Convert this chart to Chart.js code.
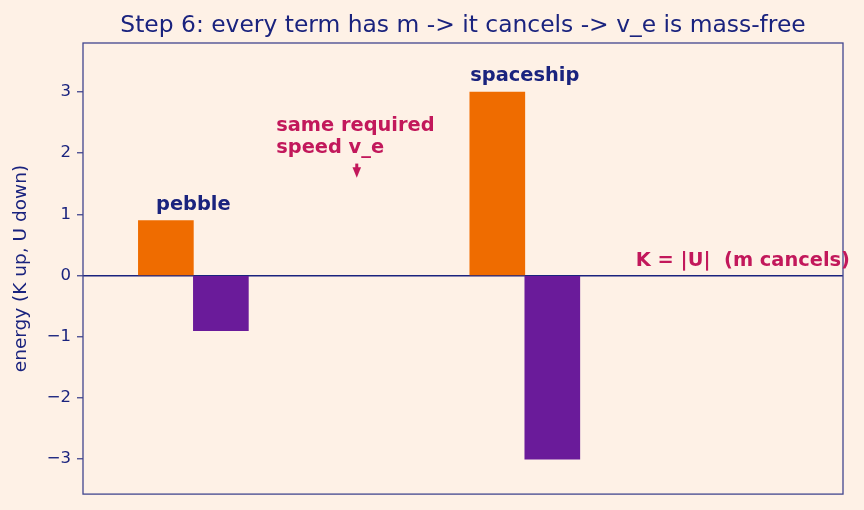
<!DOCTYPE html>
<html>
<head>
<meta charset="utf-8">
<script src="https://cdn.jsdelivr.net/npm/chart.js@4"></script>
<style>
  html, body { margin: 0; padding: 0; background: #fef1e6; }
  #wrap { width: 864px; height: 510px; }
</style>
</head>
<body>
<div id="wrap"><canvas id="energyChart"></canvas></div>
<script>
// values
const objects = ['pebble', 'spaceship'];
const positions = [0, 1];
const kinetic = [0.9, 3.0];
const potential = [-0.9, -3.0];
const yTicks = [-3, -2, -1, 0, 1, 2, 3];

const chartTitle = 'Step 6: every term has m -> it cancels -> v_e is mass-free';
const arrowNote = ['same required', 'speed v_e'];
const cancelNote = 'K = |U|  (m cancels)';

const navy = '#1a237e';
const frame = '#41468f';
const crimson = '#c2185b';

Chart.defaults.font.family = "'DejaVu Sans', sans-serif";
Chart.defaults.color = navy;

const background = {
  id: 'background',
  beforeDraw: (chart) => {
    const {ctx} = chart;
    ctx.save();
    ctx.fillStyle = '#fef1e6';
    ctx.fillRect(0, 0, chart.width, chart.height);
    ctx.restore();
  }
};

const notes = {
  id: 'notes',
  afterDraw: (chart) => {
    const {ctx, chartArea} = chart;
    const x = chart.scales.x;
    const y = chart.scales.y;
    ctx.save();

    // frame around the plot
    ctx.strokeStyle = frame;
    ctx.lineWidth = 1.3;
    ctx.strokeRect(chartArea.left, chartArea.top, chartArea.right - chartArea.left, chartArea.bottom - chartArea.top);

    // title, centred over the plot area
    ctx.fillStyle = navy;
    ctx.font = '23.4px "DejaVu Sans"';
    ctx.textAlign = 'center';
    ctx.textBaseline = 'alphabetic';
    ctx.fillText(chartTitle, (chartArea.left + chartArea.right) / 2, 31.5);

    ctx.font = 'bold 19.4px "DejaVu Sans"';
    ctx.textBaseline = 'bottom';

    // object names above the K bars
    objects.forEach((name, i) => {
      ctx.fillText(name, x.getPixelForValue(positions[i]), y.getPixelForValue(kinetic[i] + 0.1));
    });

    // K = |U| note
    ctx.fillStyle = crimson;
    ctx.textAlign = 'left';
    ctx.fillText(cancelNote, x.getPixelForValue(1.335), y.getPixelForValue(0.08));

    // "same required speed v_e" with a little arrow
    const nx = x.getPixelForValue(0.25);
    const ny = y.getPixelForValue(1.92);
    ctx.fillText(arrowNote[0], nx, ny - 22.3);
    ctx.fillText(arrowNote[1], nx, ny);

    const ax = x.getPixelForValue(0.493);
    const tip = y.getPixelForValue(1.6);
    const tail = y.getPixelForValue(1.83);
    ctx.strokeStyle = crimson;
    ctx.lineWidth = 3;
    ctx.beginPath();
    ctx.moveTo(ax, tail);
    ctx.lineTo(ax, tip - 8);
    ctx.stroke();
    ctx.beginPath();
    ctx.moveTo(ax - 4.3, tip - 10.5);
    ctx.lineTo(ax + 4.3, tip - 10.5);
    ctx.lineTo(ax, tip);
    ctx.closePath();
    ctx.fill();

    ctx.restore();
  }
};

const config = {
  type: 'bar',
  data: {
    datasets: [{
      label: 'K',
      data: positions.map((p, i) => ({x: p, y: kinetic[i]})),
      backgroundColor: '#ef6c00',
      barThickness: 55
    }, {
      label: 'U',
      data: positions.map((p, i) => ({x: p, y: potential[i]})),
      backgroundColor: '#6a1b9a',
      barThickness: 55
    }]
  },
  options: {
    responsive: true,
    maintainAspectRatio: false,
    animation: false,
    layout: {
      padding: {left: 0, right: 21, top: 43, bottom: 15}
    },
    scales: {
      x: {
        type: 'linear',
        display: false,
        offset: false,
        min: -0.333,
        max: 1.96,
        grid: {offset: false}
      },
      y: {
        min: -3.57,
        max: 3.8,
        z: 1,
        afterBuildTicks: (scale) => {
          scale.ticks = yTicks.map(v => ({value: v}));
        },
        afterFit: (scale) => {
          scale.width = 83;
        },
        border: {display: false},
        grid: {
          color: (c) => c.tick && c.tick.value === 0 ? navy : 'rgba(0,0,0,0)',
          lineWidth: 1.5,
          tickColor: frame,
          tickWidth: 1.3,
          tickLength: 6
        },
        ticks: {
          color: navy,
          padding: 6,
          font: {size: 16.5},
          callback: (v) => String(v).replace('-', '\u2212')
        },
        title: {
          display: true,
          text: 'energy (K up, U down)',
          color: navy,
          font: {size: 18.5},
          padding: {top: 10.5, bottom: 0}
        }
      }
    },
    plugins: {
      legend: {display: false},
      tooltip: {enabled: false},
      title: {display: false}
    }
  },
  plugins: [background, notes]
};

new Chart(document.getElementById('energyChart'), config);
</script>
</body>
</html>
